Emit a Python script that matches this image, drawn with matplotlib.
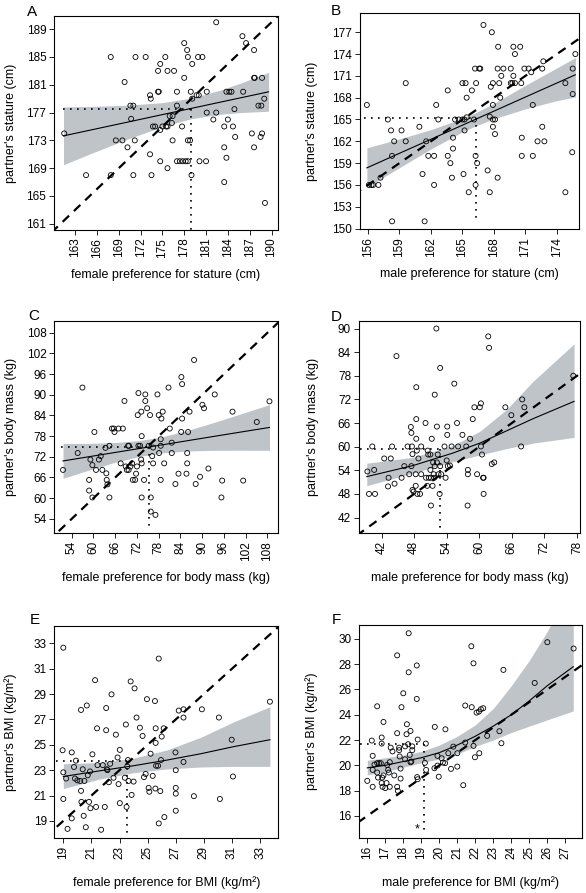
import numpy as np
import matplotlib
matplotlib.use("Agg")
import matplotlib.pyplot as plt

plt.rcParams['font.family'] = ['Liberation Sans', 'DejaVu Sans']

# ---- A: female preference vs partner's stature (cm)
a_pref = [161.5, 164.5, 167.9, 167.9, 168.6, 169.5, 169.8, 170.2, 170.6, 170.7,
          171.0, 171.0, 171.2, 171.3, 172.7, 173.3, 173.3, 173.4, 173.5, 173.7,
          174.0, 174.4, 174.4, 174.5, 174.7, 174.7, 174.7, 175.0, 175.4, 175.5,
          175.7, 175.7, 175.7, 176.0, 176.3, 176.4, 176.4, 176.6, 177.0, 177.0,
          177.0, 177.4, 177.7, 177.8, 178.0, 178.0, 178.2, 178.4, 178.5, 178.5,
          178.5, 178.8, 178.9, 179.0, 179.1, 179.1, 179.7, 179.9, 180.0, 180.1,
          180.5, 181.0, 181.1, 181.1, 182.4, 182.0, 182.4, 183.5, 183.5, 183.5,
          183.8, 183.8, 184.0, 184.2, 184.5, 184.7, 184.9, 185.0, 186.0, 186.1,
          186.5, 187.3, 187.6, 187.6, 187.6, 187.7, 188.2, 188.5, 188.6, 188.7,
          188.7, 189.0, 189.1]
a_partner = [174, 168, 185, 168, 173, 173, 181.4, 172, 178, 176.1,
             178, 168, 173, 185, 185, 171, 179.5, 179, 168, 175,
             175, 183, 180, 180, 184, 170, 174.5, 175, 185, 175,
             183, 175, 169, 176.5, 175.5, 173, 176.5, 183, 180, 178,
             170, 170, 175, 170, 187, 182, 170, 186, 170, 173,
             185, 173, 180, 168, 184, 179, 179.5, 185, 179.5, 170,
             185, 170, 180, 177, 177, 176, 190, 175, 172, 167,
             170.5, 180, 176, 180, 180, 175, 177.5, 173.5, 188, 180,
             187, 174, 182, 172, 186, 182, 178, 173.5, 178, 182,
             174, 179, 164]
a_fit_x = [161.4, 165, 170, 175, 179, 183, 186, 189.6]
a_fit_y = [173.65, 174.46, 175.58, 176.71, 177.61, 178.51, 179.18, 179.99]
a_lo = [169.49, 171.04, 173.11, 174.99, 176.13, 176.77, 177.02, 177.19]
a_hi = [177.81, 177.88, 178.05, 178.43, 179.09, 180.25, 181.34, 182.79]
a_mean = (178.9, 177.5)

# ---- B: male preference vs partner's stature (cm)
b_pref = [155.9, 156.1, 156.35, 156.5, 157.0, 157.2,
          167.0, 167.8, 168.4, 169.85, 170.5, 170.0, 175.75, 172.7,
          166.2, 166.6, 166.7, 168.35, 168.9, 169.6, 170.9, 171.3, 172.6, 175.5,
          171.55, 168.7, 169.85,
          159.6, 165.0, 165.3, 166.3, 167.9, 168.5, 169.6, 169.75, 170.0, 170.6, 174.8,
          165.9, 163.6, 167.7, 165.4, 168.6, 175.5,
          162.5, 167.9, 171.7,
          157.9, 162.7, 164.3, 164.65, 165.0, 165.2, 165.4, 166.1, 167.6, 167.9, 168.1,
          160.9, 167.9, 172.6,
          158.2, 159.2, 165.2, 168.1, 164.1, 170.65,
          158.5, 159.6, 161.55, 172.15, 172.8,
          164.1, 163.6, 158.3, 161.75, 162.3, 166.25, 170.65, 171.7, 175.45,
          163.85, 166.4, 161.2, 165.1, 167.4, 164.0, 168.35,
          162.3, 166.25, 165.6, 167.6, 174.8,
          158.3, 161.4]
b_partner = [167, 156, 156, 156, 156, 157,
             178, 177, 175, 175, 175, 174, 174, 173,
             172, 172, 172, 172, 172, 172, 172, 172, 172, 172,
             171.5, 171, 171,
             170, 170, 170, 170, 170, 170, 170, 170, 170, 170, 170,
             169, 169, 169.5, 168, 168, 168.5,
             167, 167, 167,
             165, 165, 165, 165, 165, 165, 165.3, 165, 165.4, 165, 165,
             164, 164, 164,
             163.5, 163.5, 163.5, 163, 162.5, 162.5,
             162, 162, 162, 162, 162,
             161, 160, 160, 160, 160, 160, 160, 160, 160.5,
             159, 159, 157.5, 157.5, 158, 157, 157,
             156, 156, 155, 155, 155,
             151, 151]
b_fit_x = [155.9, 159, 162, 165, 166.3, 168, 171, 174, 175.75]
b_fit_y = [158.35, 160.35, 162.28, 164.22, 165.06, 166.15, 168.09, 170.02, 171.15]
b_lo = [155.7, 158.37, 160.95, 163.3, 164.15, 165.09, 166.47, 167.6, 168.1]
b_hi = [161.1, 162.33, 163.61, 165.14, 165.97, 167.21, 169.71, 172.1, 173.5]
b_mean = (166.3, 165.2)

# ---- C: female preference vs partner's body mass (kg)
c_pref = [51.6, 55.65, 56.95, 58.8, 58.8, 59.15, 59.7, 59.7, 60.25, 60.7,
          61.5, 62.0, 62.45, 63.3, 63.55, 63.65, 63.85, 64.4, 64.4, 65.1,
          65.6, 65.8, 66.9, 68.1, 67.5, 68.55, 68.9, 69.2, 69.55, 69.8,
          69.7, 70.2, 70.65, 70.85, 71.5, 71.75, 72.0, 72.2, 72.4, 72.4,
          72.85, 73.2, 73.3, 73.15, 73.3, 73.3, 73.95, 74.3, 74.3, 74.8,
          75.6, 75.25, 75.8, 75.8, 76.45, 76.2, 76.45, 77.1, 77.65, 78.0,
          78.1, 78.55, 78.55, 78.75, 78.55, 79.1, 79.5, 80.7, 81.05, 81.6,
          81.6, 82.6, 83.45, 84.25, 84.45, 84.45, 84.2, 85.65, 85.85, 85.85,
          86.1, 86.5, 87.75, 88.2, 89.4, 90.05, 90.5, 91.7, 93.45, 95.3,
          95.5, 98.35, 101.3, 105.05, 108.55]
c_partner = [68.2, 73.1, 92.1, 65.3, 62.2, 71.2, 69.6, 60.2, 79.2, 68.2,
             71.2, 72.2, 68.2, 74.6, 67.2, 65.3, 64.0, 75.2, 60.2, 80.2,
             80.2, 79.2, 80.2, 80.2, 70.1, 88.2, 69.2, 68.2, 75.2, 75.2,
             68.2, 69.2, 70.1, 65.3, 65.3, 67.1, 69.2, 84.1, 90.5, 75.2,
             75.2, 85.1, 78.0, 71.2, 70.1, 60.2, 65.3, 90.1, 88.2, 86.1,
             84.1, 75.2, 60.2, 56.1, 74.7, 72.2, 70.1, 55.15, 90.1, 84.1,
             73.1, 77.1, 75.2, 83.1, 65.3, 85.1, 70.1, 92.1, 80.2, 76.1,
             73.1, 64.1, 67.1, 95.15, 93.1, 83.1, 79.2, 67.1, 73.1, 70.1,
             79.2, 85.1, 100.1, 64.1, 66.2, 87.1, 86.1, 68.6, 90.1, 60.2,
             65.1, 85.1, 65.1, 82.1, 88.1]
c_fit_x = [51.6, 58.45, 65.45, 72.45, 78.45, 85.45, 92.45, 100.45, 108.55]
c_fit_y = [70.8, 71.97, 73.17, 74.37, 75.39, 76.59, 77.79, 79.15, 80.52]
c_lo = [65.75, 68.05, 70.24, 72.06, 73.08, 73.66, 73.87, 73.91, 73.87]
c_hi = [75.85, 75.89, 76.1, 76.68, 77.7, 79.52, 81.71, 84.39, 87.17]
c_mean = (75.35, 74.7)

# ---- D: male preference vs partner's body mass (kg)
d_pref = [39.4, 39.7, 40.3, 40.65, 40.8, 42.5, 43.3, 43.2, 43.7, 43.95,
          44.4, 44.75, 45.7, 46.2, 46.8, 47.1, 47.4, 47.5, 47.5, 47.6,
          47.7, 47.7, 47.9, 48.3, 48.4, 48.4, 48.4, 48.5, 48.3, 48.6,
          48.8, 49.1, 49.3, 49.3, 50.1, 50.2, 50.4, 50.5, 50.6, 50.7,
          51.0, 51.1, 51.1, 51.0, 51.25, 51.4, 51.5, 51.6, 51.7, 51.8,
          51.8, 52.1, 52.2, 52.2, 52.35, 52.5, 52.8, 52.7, 52.8, 53.0,
          53.6, 53.8, 54.1, 54.1, 54.0, 54.2, 54.6, 54.9, 55.4, 55.9,
          56.1, 56.9, 57.6, 57.9, 57.85, 57.9, 58.3, 58.8, 59.1, 59.6,
          60.1, 60.3, 60.3, 60.5, 60.7, 60.8, 60.8, 61.65, 61.8, 62.3,
          62.75, 64.8, 65.9, 67.7, 67.9, 68.3, 77.3]
d_partner = [53.7, 48.0, 60.05, 54.1, 48.0, 57.0, 52.1, 49.9, 57.0, 60.05,
             50.6, 83.0, 52.1, 55.05, 60.05, 53.0, 65.0, 63.5, 55.05, 60.05,
             58.1, 49.0, 48.6, 50.05, 75.1, 67.0, 62.0, 59.0, 53.0, 48.0,
             57.0, 48.0, 60.05, 53.0, 66.0, 52.1, 50.05, 59.0, 58.0, 52.1,
             58.0, 45.05, 52.1, 54.1, 62.0, 50.05, 56.0, 53.0, 52.1, 73.2,
             55.05, 90.0, 65.1, 56.0, 58.0, 53.0, 80.0, 48.0, 55.05, 53.0,
             60.05, 52.1, 65.1, 63.0, 56.5, 55.05, 55.2, 60.05, 76.0, 66.0,
             60.05, 63.0, 60.05, 53.0, 45.05, 54.1, 62.0, 67.0, 70.0, 53.0,
             70.0, 60.05, 71.0, 58.0, 52.1, 52.1, 48.0, 88.0, 85.1, 55.6,
             56.0, 70.0, 68.0, 60.05, 72.0, 70.0, 78.0]
d_fit_x = [39.3, 47.8, 55.2, 60.1, 65.0, 69.9, 77.45]
d_fit_y = [52.4, 55.2, 58.4, 60.9, 64.0, 67.1, 71.5]
d_lo = [50.1, 53.3, 56.2, 57.9, 59.5, 60.9, 62.35]
d_hi = [55.8, 57.3, 60.3, 63.9, 69.4, 76.6, 86.1]
d_mean = (52.7, 59.4)

# ---- E: female preference vs partner's BMI (kg/m2)
e_pref = [19.0, 18.95, 19.0, 19.0, 19.2, 19.3, 19.6, 19.6, 19.76, 19.83,
          19.9, 20.0, 20.2, 20.26, 20.26, 20.29, 20.38, 20.45, 20.5, 20.6,
          20.67, 20.74, 20.83, 20.9, 20.93, 21.07, 21.26, 21.33, 21.4, 21.43,
          21.69, 21.81, 21.95, 22.05, 22.05, 22.1, 22.14, 22.24, 22.33, 22.43,
          22.57, 22.74, 22.86, 22.93, 23.02, 23.02, 23.38, 23.45, 23.55, 23.6,
          23.5, 23.64, 23.79, 23.86, 24.0, 24.07, 24.21, 24.45, 24.64, 24.74,
          24.86, 24.95, 25.07, 25.12, 25.21, 25.36, 25.52, 25.57, 25.55, 25.57,
          25.6, 25.74, 25.79, 25.79, 25.9, 25.95, 26.0, 26.14, 26.19, 26.98,
          27.0, 27.0, 27.0, 27.0, 27.21, 27.55, 27.55, 27.55, 28.29, 28.86,
          30.07, 30.14, 30.98, 31.07, 33.7]
e_partner = [32.66, 24.57, 22.83, 20.73, 22.34, 18.37, 24.4, 19.2, 23.25, 22.34,
             23.75, 22.2, 22.15, 27.75, 21.37, 20.5, 23.07, 19.4, 22.15, 18.5,
             28.1, 22.6, 20.5, 22.9, 20.0, 24.25, 30.1, 20.1, 26.3, 23.4,
             18.3, 23.4, 20.1, 27.9, 26.15, 23.07, 23.0, 22.05, 23.5, 28.98,
             22.4, 25.8, 24.0, 21.9, 24.6, 20.4, 22.4, 26.6, 23.3, 23.8,
             20.1, 22.15, 30.0, 21.05, 22.1, 29.45, 27.15, 26.35, 25.7, 22.45,
             22.7, 28.6, 21.6, 21.3, 24.3, 22.55, 28.45, 25.15, 21.55, 26.3,
             23.35, 23.35, 31.8, 18.8, 21.35, 23.8, 25.65, 26.3, 19.3, 24.4,
             23.0, 21.6, 21.15, 19.8, 27.7, 27.8, 27.15, 23.65, 20.95, 27.8,
             27.15, 20.73, 25.4, 22.5, 28.4]
e_fit_x = [19.0, 21.6, 24.0, 26.4, 28.8, 31.1, 33.7]
e_fit_y = [22.5, 22.95, 23.35, 23.8, 24.3, 24.85, 25.4]
e_lo = [21.55, 22.3, 22.8, 23.1, 23.25, 23.3, 23.3]
e_hi = [23.5, 23.6, 23.95, 24.6, 25.6, 26.8, 28.0]
e_mean = (23.52, 23.75)

# ---- F: male preference vs partner's BMI (kg/m2)
f_pref = [16.0, 16.25, 16.3, 16.3, 16.3, 16.4, 16.55, 16.55, 16.55, 16.6,
          16.65, 16.75, 16.8, 16.8, 16.8, 16.83, 16.85, 16.9, 16.9, 17.0,
          17.07, 17.1, 17.16, 17.2, 17.25, 17.25, 17.3, 17.4, 17.5, 17.66,
          17.66, 17.66, 17.7, 17.77, 17.77, 17.8, 17.85, 17.85, 17.9, 18.0,
          18.1, 18.1, 18.18, 18.2, 18.27, 18.3, 18.3, 18.36, 18.4, 18.4,
          18.45, 18.5, 18.5, 18.75, 18.75, 18.8, 18.77, 18.8, 19.2, 19.25,
          19.27, 19.75, 19.73, 19.9, 19.9, 19.97, 20.13, 20.2, 20.34, 20.32,
          20.5, 20.65, 20.78, 21.0, 21.0, 21.33, 21.44, 21.44, 21.78, 21.8,
          21.9, 21.9, 21.98, 22.07, 22.2, 22.22, 22.31, 22.44, 22.66, 23.34,
          23.45, 23.56, 25.3, 26.0, 27.46]
f_partner = [18.77, 21.96, 20.75, 19.64, 18.3, 20.06, 20.17, 24.67, 19.43, 19.03,
             20.17, 20.17, 18.6, 21.72, 22.2, 19.03, 18.3, 23.43, 19.2, 18.2,
             18.6, 20.03, 19.64, 19.43, 20.25, 18.3, 21.4, 21.1, 19.2, 28.7,
             22.54, 18.3, 17.98, 21.4, 21.2, 20.7, 18.95, 19.74, 24.6, 25.7,
             21.5, 20.48, 22.46, 23.25, 21.67, 30.45, 27.36, 20.82, 22.72, 20.25,
             20.3, 21.2, 21.5, 27.9, 25.25, 22.04, 19.07, 18.9, 20.2, 21.72,
             19.64, 23.04, 19.77, 20.75, 19.98, 19.1, 20.56, 20.22, 22.85, 20.17,
             20.96, 19.72, 21.48, 20.96, 19.9, 18.43, 21.8, 24.73, 29.42, 24.6,
             28.07, 21.54, 20.64, 24.17, 24.25, 20.96, 24.44, 24.52, 22.33, 22.7,
             21.75, 27.55, 26.52, 29.74, 29.24]
f_fit_x = [16.0, 17, 18, 19, 20, 21, 22, 23, 24, 25, 26, 27.44]
f_fit_y = [19.8, 20.0, 20.3, 20.6, 21.0, 21.6, 22.3, 23.1, 24.0, 25.1, 26.3, 27.8]
f_lo = [19.25, 19.5, 19.85, 20.2, 20.5, 20.9, 21.5, 22.0, 22.6, 23.1, 23.6, 24.3]
f_hi = [20.4, 20.6, 20.8, 21.1, 21.6, 22.3, 23.2, 24.5, 26.3, 28.3, 30.6, 34.5]
f_mean = (19.13, 21.7)
f_star = (18.77, 14.9)

panels = [
    dict(letter="A", x=a_pref, y=a_partner, fx=a_fit_x, fy=a_fit_y, lo=a_lo, hi=a_hi, mean=a_mean,
         xlab="female preference for stature (cm)", ylab="partner's stature (cm)",
         xt=np.arange(163, 191, 3), yt=np.arange(161, 190, 4),
         xlim=(160.1, 190.9), ylim=(160.1, 190.9), h0=161.4, v0=160.1,
         pos=[0.0922, 0.7424, 0.3823, 0.2397], lxy=(0.046, 0.9826), ylx=-0.167),
    dict(letter="B", x=b_pref, y=b_partner, fx=b_fit_x, fy=b_fit_y, lo=b_lo, hi=b_hi, mean=b_mean,
         xlab="male preference for stature (cm)", ylab="partner's stature (cm)",
         xt=np.arange(156, 175, 3), yt=np.arange(150, 178, 3),
         xlim=(155.2, 176.1), ylim=(149.9, 179.6), h0=155.65, v0=150.8,
         pos=[0.6135, 0.7432, 0.3746, 0.2419], lxy=(0.5637, 0.9832), ylx=-0.187),
    dict(letter="C", x=c_pref, y=c_partner, fx=c_fit_x, fy=c_fit_y, lo=c_lo, hi=c_hi, mean=c_mean,
         xlab="female preference for body mass (kg)", ylab="partner's body mass (kg)",
         xt=np.arange(54, 109, 6), yt=np.arange(54, 109, 6),
         xlim=(49.2, 111.0), ylim=(49.8, 111.4), h0=51.05, v0=51.3,
         pos=[0.0927, 0.4028, 0.3823, 0.2377], lxy=(0.0483, 0.6417), ylx=-0.168),
    dict(letter="D", x=d_pref, y=d_partner, fx=d_fit_x, fy=d_fit_y, lo=d_lo, hi=d_hi, mean=d_mean,
         xlab="male preference for body mass (kg)", ylab="partner's body mass (kg)",
         xt=np.arange(42, 79, 6), yt=np.arange(42, 91, 6),
         xlim=(37.8, 78.6), ylim=(38.0, 91.9), h0=38.0, v0=38.3,
         pos=[0.6121, 0.4028, 0.3782, 0.2377], lxy=(0.5637, 0.6405), ylx=-0.181),
    dict(letter="E", x=e_pref, y=e_partner, fx=e_fit_x, fy=e_fit_y, lo=e_lo, hi=e_hi, mean=e_mean,
         xlab="female preference for BMI (kg/m²)", ylab="partner's BMI (kg/m²)",
         xt=np.arange(19, 34, 2), yt=np.arange(19, 34, 2),
         xlim=(18.36, 34.3), ylim=(17.63, 34.37), h0=18.45, v0=17.9,
         pos=[0.0927, 0.0613, 0.3823, 0.2377], lxy=(0.05, 0.3009), ylx=-0.168),
    dict(letter="F", x=f_pref, y=f_partner, fx=f_fit_x, fy=f_fit_y, lo=f_lo, hi=f_hi, mean=f_mean,
         xlab="male preference for BMI (kg/m²)", ylab="partner's BMI (kg/m²)",
         xt=np.arange(16, 28, 1), yt=np.arange(16, 31, 2),
         xlim=(15.54, 27.94), ylim=(14.23, 31.1), h0=15.6, v0=14.7,
         pos=[0.6126, 0.0613, 0.381, 0.2388], lxy=(0.5654, 0.3012), ylx=-0.182),
]

fig = plt.figure(figsize=(5.86, 8.93), dpi=100)

for p in panels:
    ax = fig.add_axes(p["pos"])
    ax.fill_between(p["fx"], p["lo"], p["hi"], color="#bfc4c9", lw=0, zorder=1)
    ax.plot(p["fx"], p["fy"], color="black", lw=0.8, zorder=3)
    # identity line (preference == partner)
    lo_lim = min(p["xlim"][0], p["ylim"][0]) - 5
    hi_lim = max(p["xlim"][1], p["ylim"][1]) + 5
    ax.plot([lo_lim, hi_lim], [lo_lim, hi_lim], color="black", lw=1.6,
            linestyle=(0, (4, 3)), zorder=2)
    # means
    mx, my = p["mean"]
    ax.plot([p["h0"], mx], [my, my], color="black", lw=1.2, linestyle=(0, (1, 3.2)), zorder=2)
    ax.plot([mx, mx], [my, p["v0"]], color="black", lw=1.2, linestyle=(0, (1, 3.2)), zorder=2)
    ax.scatter(p["x"], p["y"], s=13, facecolors="none", edgecolors="black",
               linewidths=0.6, zorder=4)
    if p["letter"] == "F":
        ax.text(f_star[0], f_star[1], "*", ha="center", va="center", fontsize=9, zorder=5)
    ax.set_xlim(p["xlim"])
    ax.set_ylim(p["ylim"])
    ax.set_xticks(p["xt"])
    ax.set_yticks(p["yt"])
    ax.tick_params(axis="x", labelrotation=90)
    ax.tick_params(direction="out", length=3.5, width=0.6, labelsize=8.5, pad=2)
    for s in ax.spines.values():
        s.set_linewidth(0.8)
    ax.set_xlabel(p["xlab"], fontsize=9)
    ax.set_ylabel(p["ylab"], fontsize=9)
    ax.xaxis.set_label_coords(0.5, -0.18)
    ax.yaxis.set_label_coords(p["ylx"], 0.5)
    fig.text(p["lxy"][0], p["lxy"][1], p["letter"], fontsize=11, ha="left", va="baseline")

fig.savefig("out.png", dpi=100)
